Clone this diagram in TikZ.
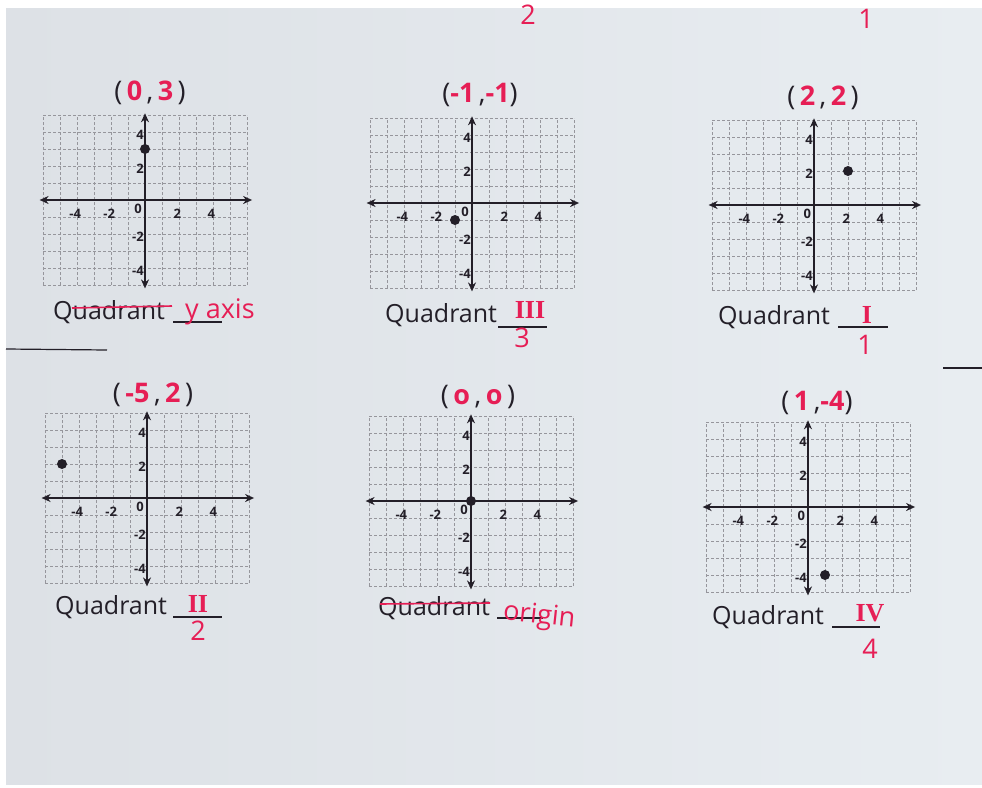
\documentclass[tikz,border=0pt]{standalone}
\usepackage{fontspec}
\setmainfont{Open Sans}
\newfontfamily\romanfont{Liberation Serif}
\usetikzlibrary{arrows.meta, positioning}

\definecolor{paper}{RGB}{221,225,230}
\definecolor{paperlight}{RGB}{232,237,241}
\definecolor{ink}{RGB}{35,31,40}
\definecolor{penred}{RGB}{230,30,85}
\definecolor{gridgray}{RGB}{150,150,156}

\tikzset{
  gridline/.style = {gridgray, line width = 0.6pt, dash pattern = on 3pt off 2pt},
  axis/.style = {ink, line width = 2.8pt,
    {Stealth[length = 9pt, width = 8pt]}-{Stealth[length = 9pt, width = 8pt]}},
  ticklabel/.style = {ink, inner sep = 1pt, font = \fontsize{13}{13}\selectfont\bfseries},
  dot/.style = {circle, fill = ink, inner sep = 0pt, minimum size = 10pt},
  coordlabel/.style = {ink, inner sep = 0pt, font = \fontsize{27}{27}\selectfont},
  quadtext/.style = {ink, anchor = west, inner sep = 0pt, font = \fontsize{25}{25}\selectfont},
  answer/.style = {penred, inner sep = 0pt, font = \fontsize{27}{27}\selectfont},
  numeral/.style = {penred, inner sep = 0pt, font = \fontsize{26}{26}\selectfont\romanfont\bfseries},
  blank/.style = {ink, line width = 1.3pt},
  strike/.style = {penred, line width = 1.6pt},
}

\newcommand{\red}[1]{\textcolor{penred}{\bfseries #1}}

\begin{document}
\begin{tikzpicture}[x = 1pt, y = -1pt]
  \useasboundingbox (0,0) rectangle (982,787);
  \fill [white] (0,0) rectangle (982,787);
  \shade [left color = paper, right color = paperlight] (6,8) rectangle (982,784);

  \draw [ink, line width = 1.2pt] (6,349) -- (107,350);
  \draw [ink, line width = 1.2pt] (943,368) -- (982,368);

  \foreach \ox/\oy/\px/\py/\id in {145/200/0/3/a, 472/203/-1/-1/b, 814/205/2/2/c,
                                   147/498/-5/2/d, 471/501/0/0/e, 808/507/1/-4/f} {
    \begin{scope} [shift = {(\ox,\oy)}, x = 17pt, y = 17pt]
      \draw [gridline, step = 1] (-6,-5) grid (6,5);
      \draw [axis] (-6.2,0) -- (6.3,0);
      \draw [axis] (0,5.1) -- (0,-5.2);
      \foreach \t in {-4,-2,2,4} {
        \node [ticklabel] (x\id\t) at (\t-0.1,-0.8) {\t};
        \node [ticklabel, anchor = east] (y\id\t) at (0,\t-0.15) {\t};
      }
      \node [ticklabel] (o\id) at (-0.4,-0.5) {0};
      \node [dot] (p\id) at (\px,\py) {};
    \end{scope}
  }

  % ordered pairs
  \node [coordlabel] (ta) at (150,93)  {(\,\red{0}\,,\,\red{3}\,)};
  \node [coordlabel] (tb) at (480,95)  {(\red{-1}\,,\red{-1})};
  \node [coordlabel] (tc) at (823,98)  {(\,\red{2}\,,\,\red{2}\,)};
  \node [coordlabel] (td) at (153,395) {(\,\red{-5}\,,\,\red{2}\,)};
  \node [coordlabel] (te) at (478,397) {(\,\red{o}\,,\,\red{o}\,)};
  \node [coordlabel] (tf) at (817,403) {(\,\red{1}\,,\red{-4})};

  % answers
  \node [quadtext] (qa) at (53,312) {Quadrant};
  \draw [strike] (72,308) -- (172,306);
  \draw [blank] (173,322) -- (222,322);
  \node [answer, anchor = west] (aa) at (185,312) {y axis};

  \node [quadtext] (qb) at (385,315) {Quadrant};
  \draw [blank] (498,327) -- (547,327);
  \node [numeral] (ab) at (530,310) {III};
  \node [answer] (nb) at (522,338) {3};

  \node [quadtext] (qc) at (718,317) {Quadrant};
  \draw [blank] (838,327) -- (888,327);
  \node [numeral] (ac) at (867,315) {I};
  \node [answer] (nc) at (865,345) {1};

  \node [quadtext] (qd) at (55,607) {Quadrant};
  \draw [blank] (173,617) -- (222,617);
  \node [numeral] (ad) at (198,604) {II};
  \node [answer] (nd) at (198,631) {2};

  \node [quadtext] (qe) at (378,608) {Quadrant};
  \draw [strike] (380,604) -- (490,603);
  \draw [blank] (497,618) -- (543,618);
  \node [answer, anchor = west, rotate = -6] (ae) at (503,613) {origin};

  \node [quadtext] (qf) at (712,617) {Quadrant};
  \draw [blank] (832,627) -- (880,627);
  \node [numeral] (af) at (870,613) {IV};
  \node [answer] (nf) at (870,649) {4};

  \node [answer] (topb) at (528,15) {2};
  \node [answer] (topc) at (866,19) {1};
\end{tikzpicture}
\end{document}
